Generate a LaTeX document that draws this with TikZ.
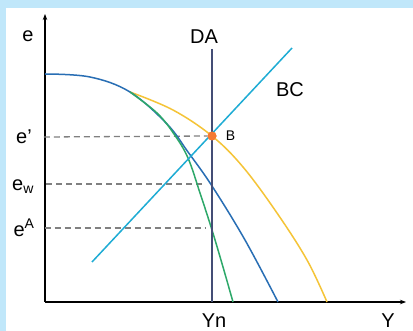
\documentclass[tikz,border=0pt]{standalone}
\usepackage{fontspec}
\setmainfont{Liberation Sans}
\usetikzlibrary{arrows.meta, positioning}
\definecolor{PanelBlue}{RGB}{192, 231, 250}
\definecolor{CurveBlue}{RGB}{40, 110, 180}
\definecolor{CurveGold}{RGB}{245, 196, 55}
\definecolor{CurveGreen}{RGB}{45, 168, 105}
\definecolor{LineCyan}{RGB}{30, 172, 212}
\definecolor{LineSlate}{RGB}{68, 78, 118}
\definecolor{DotOrange}{RGB}{245, 122, 50}
\begin{document}
\begin{tikzpicture}[
          x=1pt, y=-1pt,
          axis/.style={line width=1.3pt, black, -{Stealth[length=6pt, width=4.5pt]}},
          curve/.style={line width=1.5pt, smooth, tension=0.6},
          guide/.style={line width=1.3pt, gray, dash pattern=on 6pt off 4pt},
          lbl/.style={inner sep=0pt, font=\fontsize{20}{22}\selectfont},
          small/.style={inner sep=0pt, font=\fontsize{14}{16}\selectfont}
        ]
        \fill[PanelBlue] (0,0) rectangle (413,331);
        \fill[white] (6,8) rectangle (413,331);
        \useasboundingbox (0,0) rectangle (413,331);
        % axes
        \coordinate (origin) at (45,302);
        \coordinate (ytop) at (45,14);
        \coordinate (xend) at (406,302);
        \draw[axis] (origin) -- (ytop);
        \draw[axis] (origin) -- (xend);
        \node[lbl] (elabel) at (28,36) {e};
        \node[lbl] (Ylabel) at (388,321) {Y};
        \node[lbl] (Ynlabel) at (214,321) {Yn};
        % levels on the DA line
        \coordinate (datop) at (212,49);
        \coordinate (dabot) at (212,302);
        \coordinate (wlevel) at (206,184);
        \coordinate (alevel) at (206,228);
        \node[lbl] (eprime) at (24,137) {e’};
        \node[lbl] (ew) at (23,187) {e\textsubscript{w}};
        \node[lbl] (eA) at (24,228) {e\textsuperscript{A}};
        \node[circle, fill=DotOrange, minimum size=9pt, inner sep=0pt] (B) at (212,136) {};
        \draw[guide] (eprime.east) ++(12,0) -- (B.west);
        \draw[guide] (ew.east) ++(12,-3) -- (wlevel);
        \draw[guide] (eA.east) ++(10,0) -- (alevel);
        % curves
        \draw[curve, CurveGold] plot coordinates {(130,92) (173,110) (212,136) (243,167) (277,213) (307,260) (327,302)};
        \draw[curve, CurveBlue] plot coordinates {(45,74) (90,77) (130,92) (167,124) (188,152) (212,186) (245,240) (278,302)};
        \draw[curve, CurveGreen] plot coordinates {(130,92) (157,113) (174,134) (188,158) (200,193) (212,230) (223,267) (233,302)};
        \draw[line width=1.5pt, LineSlate] (datop) -- (dabot);
        \coordinate (bclow) at (92,262);
        \coordinate (bchigh) at (292,48);
        \draw[line width=1.5pt, LineCyan] (bclow) -- (bchigh);
        \node[fill=DotOrange, circle, minimum size=9pt, inner sep=0pt] at (B) {};
        \node[lbl] (DAlabel) at (204,37) {DA};
        \node[lbl] (BClabel) at (290,90) {BC};
        \node[small, right=9pt of B] (Blabel) {B};
      \end{tikzpicture}
\end{document}
